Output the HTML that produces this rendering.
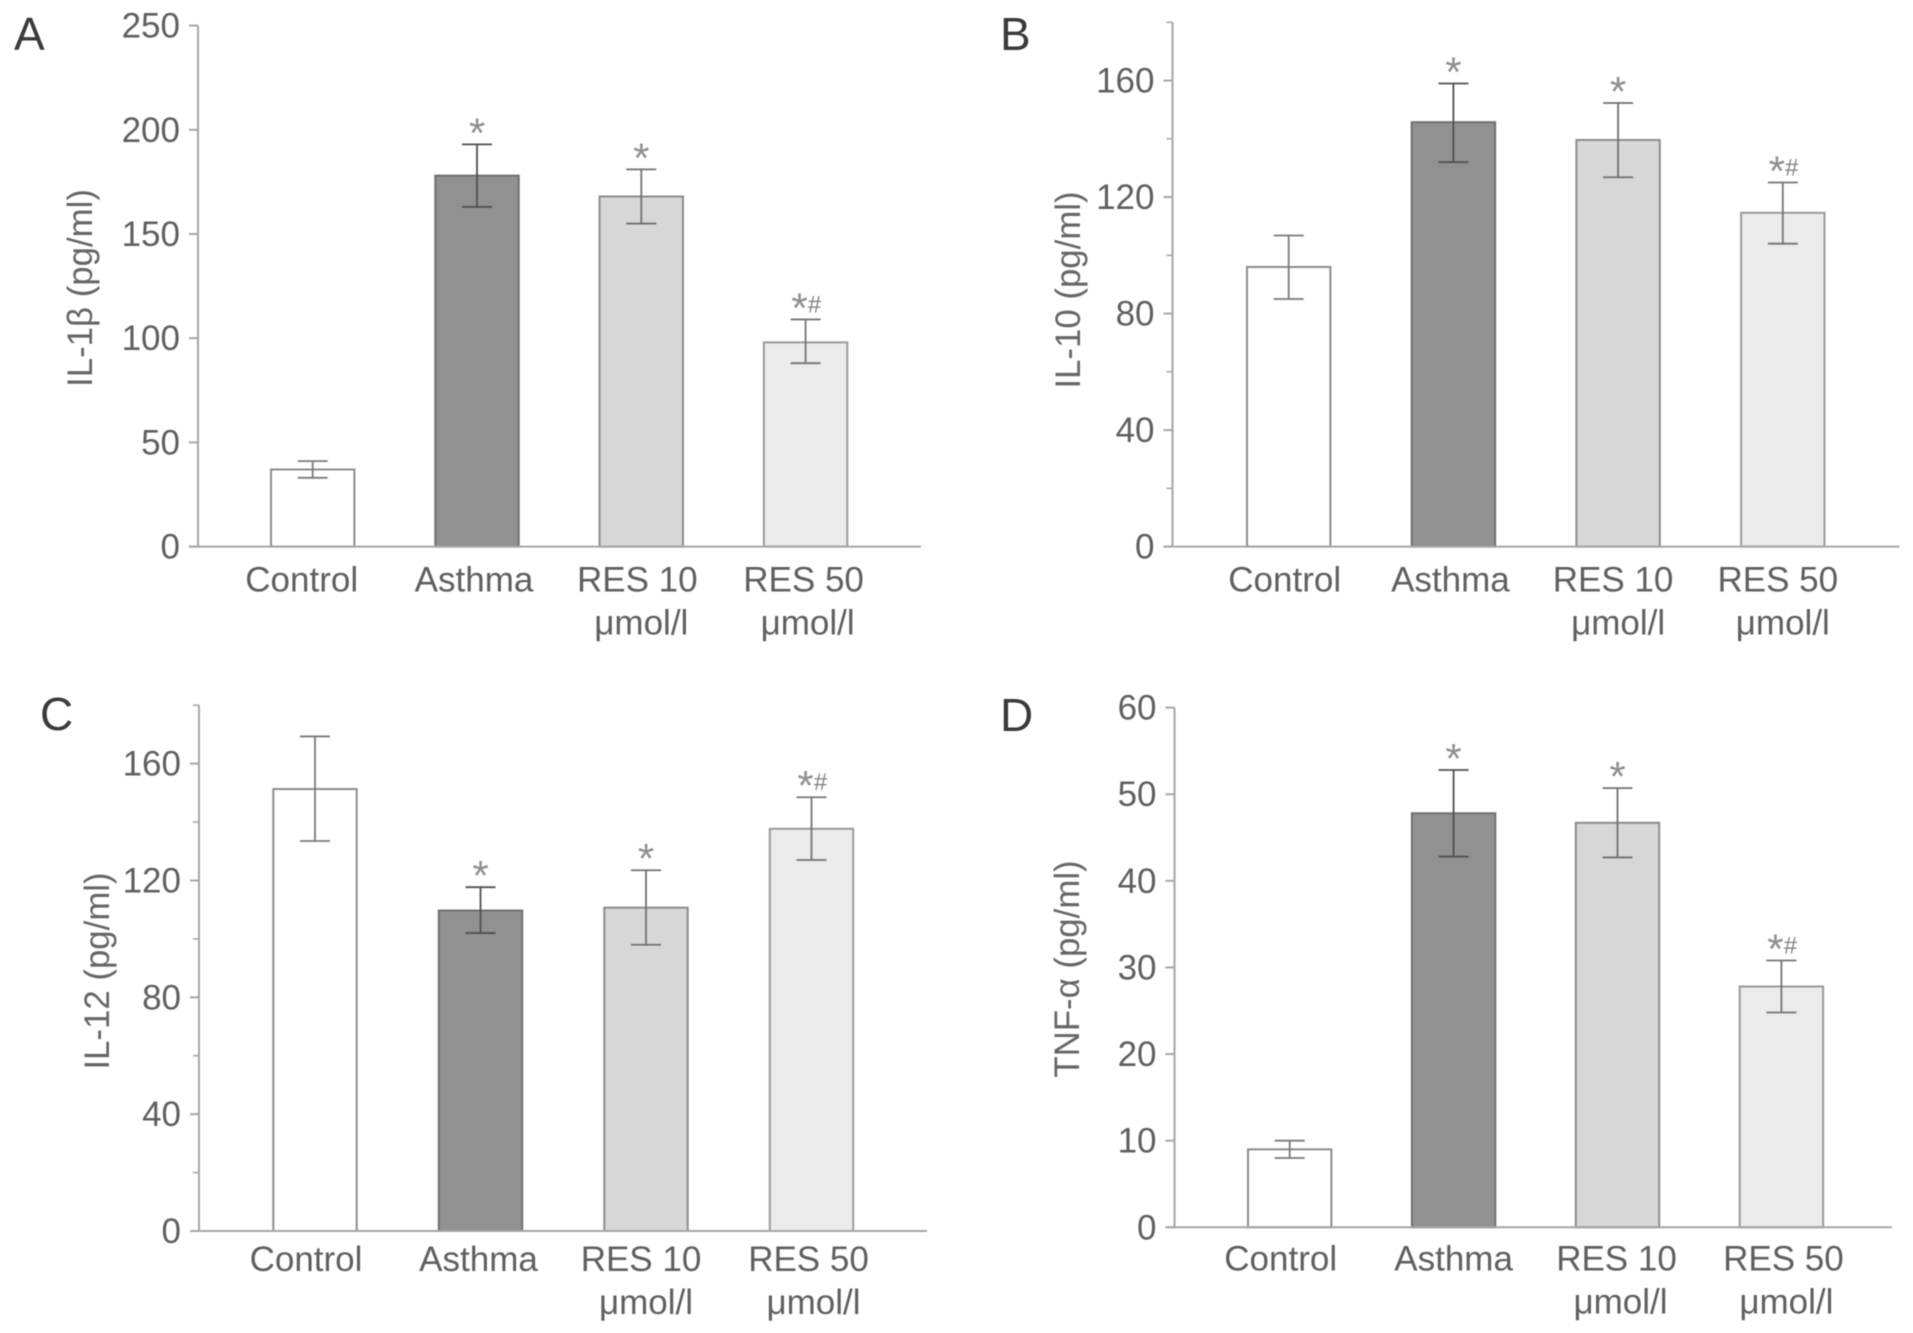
<!DOCTYPE html>
<html lang="en">
<head>
<meta charset="utf-8">
<title>Cytokine levels by treatment group</title>
<style>
html,body{margin:0;padding:0;background:#fff;}
body{width:1913px;height:1333px;overflow:hidden;}
svg{display:block;font-family:"Liberation Sans",sans-serif;filter:blur(0.6px);}
</style>
</head>
<body>
<svg id="figure" xmlns="http://www.w3.org/2000/svg" width="1913" height="1333" viewBox="0 0 1913 1333"></svg>
<script>
const categories = ['Control', 'Asthma', 'RES 10', 'RES 50'];
const categorySubLabels = ['', '', 'μmol/l', 'μmol/l'];

const aValues = [37, 178, 168, 98];
const aUpper = [41, 193, 181, 109];
const aLower = [33, 163, 155, 88];
const aMarks = ['', '*', '*', '*#'];
const aTickLabels = [0, 50, 100, 150, 200, 250];
const aMinorTicks = [];

const bValues = [96, 145.7, 139.6, 114.6];
const bUpper = [106.8, 159, 152.3, 125];
const bLower = [85, 132, 126.8, 104];
const bMarks = ['', '*', '*', '*#'];
const bTickLabels = [0, 40, 80, 120, 160];
const bMinorTicks = [20, 60, 100, 140, 180];

const cValues = [151.3, 109.7, 110.7, 137.7];
const cUpper = [169.3, 117.7, 123.5, 148.5];
const cLower = [133.5, 102, 98, 127];
const cMarks = ['', '*', '*', '*#'];
const cTickLabels = [0, 40, 80, 120, 160];
const cMinorTicks = [20, 60, 100, 140, 180];

const dValues = [9, 47.8, 46.7, 27.8];
const dUpper = [10, 52.8, 50.7, 30.8];
const dLower = [8, 42.8, 42.7, 24.8];
const dMarks = ['', '*', '*', '*#'];
const dTickLabels = [0, 10, 20, 30, 40, 50, 60];
const dMinorTicks = [];

const barFills = ['#ffffff', '#919191', '#d7d7d7', '#ebebeb'];
const barStrokes = ['#8c8c8c', '#6f6f6f', '#8c8c8c', '#9a9a9a'];
const errorColors = ['#7a7a7a', '#505050', '#707070', '#747474'];

const panels = [
  { key: 'a', letter: 'A', title: 'IL-1β (pg/ml)', values: aValues, upper: aUpper, lower: aLower, marks: aMarks, ticks: aTickLabels, minor: aMinorTicks, yMax: 250,
    layout: { axisX: 198, xEnd: 921, y0: 546.6, yTop: 25.6, firstBar: 271, step: 164.3, letterX: 14, letterY: 50, titleX: 92, titleY: 288, labelBase: 45, subBase: 88, labelShift: [-11, -3, -4, -2], subShift: [0, 0, 0, 2] } },
  { key: 'b', letter: 'B', title: 'IL-10 (pg/ml)', values: bValues, upper: bUpper, lower: bLower, marks: bMarks, ticks: bTickLabels, minor: bMinorTicks, yMax: 180,
    layout: { axisX: 1172.5, xEnd: 1899.5, y0: 546.6, yTop: 22.3, firstBar: 1247, step: 164.7, letterX: 1000, letterY: 50, titleX: 1080, titleY: 290, labelBase: 45, subBase: 88, labelShift: [-4, -3, -5, -5], subShift: [0, 0, 0, 0] } },
  { key: 'c', letter: 'C', title: 'IL-12 (pg/ml)', values: cValues, upper: cUpper, lower: cLower, marks: cMarks, ticks: cTickLabels, minor: cMinorTicks, yMax: 180,
    layout: { axisX: 199, xEnd: 927, y0: 1231, yTop: 705.2, firstBar: 273.3, step: 165.5, letterX: 40, letterY: 730, titleX: 109, titleY: 971, labelBase: 40, subBase: 83, labelShift: [-9, -2, -5, -3], subShift: [-1, 0, 0, 2] } },
  { key: 'd', letter: 'D', title: 'TNF-α (pg/ml)', values: dValues, upper: dUpper, lower: dLower, marks: dMarks, ticks: dTickLabels, minor: dMinorTicks, yMax: 60,
    layout: { axisX: 1174.5, xEnd: 1892, y0: 1227.3, yTop: 707.6, firstBar: 1248, step: 163.9, letterX: 1000, letterY: 731, titleX: 1079, titleY: 969, labelBase: 43, subBase: 86, labelShift: [-9, 0, -1, 2], subShift: [3, 0, 3, 5] } }
];

const BAR_WIDTH = 83.4;
const CAP_HALF = 15;
const svgNS = 'http://www.w3.org/2000/svg';
const figure = document.getElementById('figure');

function make(parent, tag, attrs, text) {
  const el = document.createElementNS(svgNS, tag);
  Object.keys(attrs).forEach(function (k) { el.setAttribute(k, attrs[k]); });
  if (text !== undefined) el.textContent = text;
  parent.appendChild(el);
  return el;
}

panels.forEach(function (p) {
  const L = p.layout;
  const yScale = function (v) { return L.y0 - (v / p.yMax) * (L.y0 - L.yTop); };
  const xLeft = function (i) { return L.firstBar + i * L.step; };
  const xCenter = function (i) { return xLeft(i) + BAR_WIDTH / 2; };

  const g = make(figure, 'g', {});
  
  

  const letter = make(g, 'text', { x: L.letterX, y: L.letterY, 'font-size': 46, fill: '#3a3a3a' }, p.letter);
  
  

  const title = make(g, 'text', { x: L.titleX, y: L.titleY, 'font-size': 34.8, fill: '#666666', 'text-anchor': 'middle', transform: 'rotate(-90 ' + L.titleX + ' ' + L.titleY + ')' }, p.title);
  
  

  p.values.forEach(function (v, i) {
    const bar = make(g, 'rect', { x: xLeft(i), y: yScale(v), width: BAR_WIDTH, height: L.y0 - yScale(v), fill: barFills[i], stroke: barStrokes[i], 'stroke-width': 2 });
    
    
  });

  const axisY = make(g, 'line', { x1: L.axisX, x2: L.axisX, y1: yScale(p.yMax), y2: L.y0, stroke: '#a6a6a6', 'stroke-width': 2 });
  
  

  const axisXLine = make(g, 'line', { x1: L.axisX - 9, x2: L.xEnd, y1: L.y0, y2: L.y0, stroke: '#a6a6a6', 'stroke-width': 2 });
  
  

  p.ticks.forEach(function (t) {
    const y = yScale(t);
    const tick = make(g, 'line', { x1: L.axisX - 9, x2: L.axisX, y1: y, y2: y, stroke: '#a6a6a6', 'stroke-width': 2 });
    
    
    const lab = make(g, 'text', { x: L.axisX - 18, y: y + 12, 'font-size': 35, fill: '#5f5f5f', 'text-anchor': 'end' }, String(t));
    
    
  });

  p.minor.forEach(function (t) {
    const y = yScale(t);
    const tick = make(g, 'line', { x1: L.axisX - 6, x2: L.axisX, y1: y, y2: y, stroke: '#a6a6a6', 'stroke-width': 1.6 });
    
    
  });

  p.values.forEach(function (v, i) {
    const cx = xCenter(i);
    const top = yScale(p.upper[i]);
    const bottom = yScale(p.lower[i]);
    const err = make(g, 'path', { d: 'M' + (cx - CAP_HALF) + ' ' + top + 'H' + (cx + CAP_HALF) + 'M' + cx + ' ' + top + 'V' + bottom + 'M' + (cx - CAP_HALF) + ' ' + bottom + 'H' + (cx + CAP_HALF), fill: 'none', stroke: errorColors[i], 'stroke-width': 1.8 });
    
    

    const mark = p.marks[i];
    if (mark.indexOf('*') >= 0) {
      const starX = mark.length > 1 ? cx - 6 : cx;
      const star = make(g, 'text', { x: starX, y: top + 3, 'font-size': 42, fill: '#8f8f8f', 'text-anchor': 'middle' }, '*');
      
      
    }
    if (mark.indexOf('#') >= 0) {
      const hash = make(g, 'text', { x: cx + 9, y: top - 7, 'font-size': 24, fill: '#808080', 'text-anchor': 'middle' }, '#');
      
      
    }

    const label = make(g, 'text', { x: cx + L.labelShift[i], y: L.y0 + L.labelBase, 'font-size': 35, fill: '#5f5f5f', 'text-anchor': 'middle' }, categories[i]);
    
    

    if (categorySubLabels[i]) {
      const sub = make(g, 'text', { x: cx + L.subShift[i], y: L.y0 + L.subBase, 'font-size': 35, fill: '#5f5f5f', 'text-anchor': 'middle' }, categorySubLabels[i]);
      
      
    }
  });
});
</script>
</body>
</html>
